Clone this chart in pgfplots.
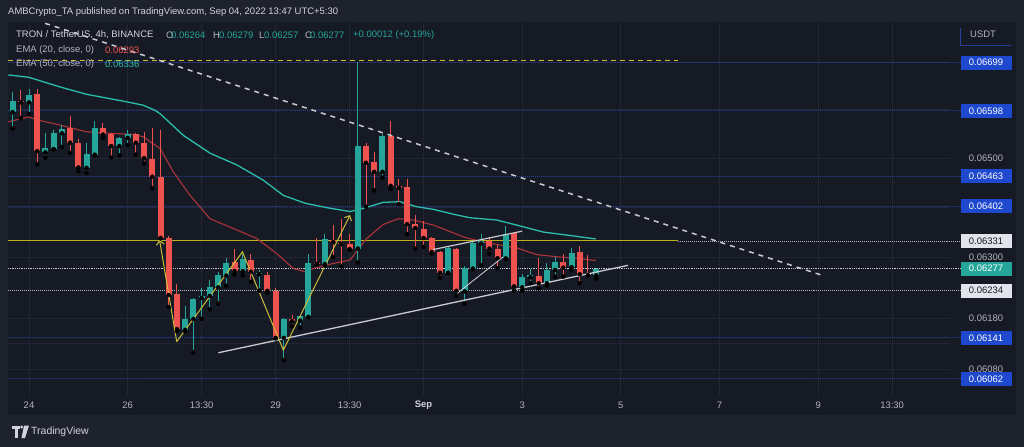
\documentclass[border=0pt]{standalone}
\usepackage{fontspec}
\setmainfont{Liberation Sans}
\usepackage{pgfplots}
\pgfplotsset{compat=1.18}
\usepackage{pgfplotstable}
\usetikzlibrary{arrows.meta}

\definecolor{outerbg}{RGB}{30,34,45}
\definecolor{panelbg}{RGB}{22,26,37}
\definecolor{gridc}{RGB}{34,38,51}
\definecolor{upc}{RGB}{38,166,154}
\definecolor{dnc}{RGB}{239,83,80}
\definecolor{emafast}{RGB}{172,52,58}
\definecolor{emaslow}{RGB}{43,190,170}
\definecolor{ylw}{RGB}{205,190,55}
\definecolor{srline}{RGB}{190,176,28}
\definecolor{lvlblue}{RGB}{40,64,155}
\definecolor{boxblue}{RGB}{30,72,205}
\definecolor{boxgray}{RGB}{225,228,235}
\definecolor{txtgray}{RGB}{178,181,190}
\definecolor{txtlight}{RGB}{209,212,220}
\definecolor{trend}{RGB}{200,202,208}

\newcommand\fs[1]{\fontsize{#1}{#1}\selectfont}

% 4h candles, i = bar index from 24 Aug 01:30 (UTC+5:30)
\pgfplotstableread{
i O H L C
-2 0.06595 0.06638 0.06561 0.06619
-1 0.06619 0.06641 0.06583 0.06616
0 0.06616 0.06643 0.06591 0.06631
1 0.06633 0.06643 0.06487 0.06514
2 0.06512 0.06551 0.06501 0.06520
3 0.06519 0.06558 0.06518 0.06552
4 0.06551 0.06568 0.06523 0.06560
5 0.06561 0.06587 0.06511 0.06532
6 0.06532 0.06539 0.06473 0.06481
7 0.06480 0.06532 0.06470 0.06508
8 0.06507 0.06576 0.06506 0.06563
9 0.06563 0.06573 0.06542 0.06549
10 0.06549 0.06551 0.06501 0.06525
11 0.06525 0.06544 0.06506 0.06541
12 0.06542 0.06558 0.06527 0.06549
13 0.06549 0.06551 0.06507 0.06532
14 0.06532 0.06554 0.06489 0.06500
15 0.06499 0.06563 0.06438 0.06462
16 0.06462 0.06559 0.06337 0.06338
17 0.06338 0.06342 0.06201 0.06225
18 0.06226 0.06246 0.06154 0.06158
19 0.06157 0.06203 0.06154 0.06178
20 0.06178 0.06220 0.06113 0.06217
21 0.06219 0.06238 0.06178 0.06223
22 0.06223 0.06254 0.06197 0.06240
23 0.06240 0.06271 0.06208 0.06264
24 0.06263 0.06298 0.06243 0.06289
25 0.06290 0.06317 0.06265 0.06272
26 0.06272 0.06307 0.06264 0.06296
27 0.06295 0.06307 0.06251 0.06271
28 0.06266 0.06274 0.06234 0.06269
29 0.06264 0.06271 0.06229 0.06233
30 0.06233 0.06238 0.06140 0.06141
31 0.06141 0.06179 0.06098 0.06177
32 0.06177 0.06185 0.06164 0.06174
33 0.06175 0.06186 0.06161 0.06183
34 0.06182 0.06307 0.06181 0.06289
35 0.06288 0.06338 0.06285 0.06286
36 0.06286 0.06346 0.06283 0.06336
37 0.06335 0.06364 0.06300 0.06330
38 0.06329 0.06377 0.06281 0.06326
39 0.06326 0.06347 0.06314 0.06316
40 0.06317 0.06700 0.06289 0.06525
41 0.06525 0.06532 0.06401 0.06491
42 0.06492 0.06512 0.06434 0.06472
43 0.06472 0.06549 0.06460 0.06545
44 0.06545 0.06576 0.06437 0.06443
45 0.06442 0.06458 0.06406 0.06439
46 0.06441 0.06457 0.06346 0.06366
47 0.06367 0.06384 0.06317 0.06358
48 0.06357 0.06372 0.06320 0.06338
49 0.06338 0.06340 0.06307 0.06310
50 0.06310 0.06311 0.06259 0.06269
51 0.06269 0.06322 0.06268 0.06318
52 0.06317 0.06319 0.06224 0.06233
53 0.06232 0.06283 0.06208 0.06279
54 0.06277 0.06330 0.06276 0.06327
55 0.06327 0.06346 0.06284 0.06332
56 0.06332 0.06340 0.06307 0.06317
57 0.06317 0.06323 0.06278 0.06298
58 0.06297 0.06362 0.06296 0.06345
59 0.06348 0.06350 0.06234 0.06242
60 0.06240 0.06267 0.06234 0.06260
61 0.06260 0.06276 0.06248 0.06264
62 0.06263 0.06297 0.06238 0.06248
63 0.06248 0.06287 0.06244 0.06274
64 0.06274 0.06300 0.06261 0.06291
65 0.06290 0.06306 0.06261 0.06279
66 0.06280 0.06318 0.06274 0.06308
67 0.06310 0.06322 0.06248 0.06266
68 0.06267 0.06304 0.06263 0.06264
69 0.06264 0.06279 0.06257 0.06277
}\ohlc

% EMA 50
\pgfplotstableread{
i v
-2.52 0.06673
0 0.06668
3.77 0.06648
7.02 0.06632
11.89 0.06617
13.87 0.06610
15.33 0.06599
15.94 0.06592
18.77 0.06547
22.02 0.06510
25.27 0.06486
28.5 0.06455
30.94 0.06424
33.58 0.06408
36.22 0.06399
39.05 0.06391
40.27 0.06396
43.1 0.06410
45.13 0.06411
47.17 0.06401
49.19 0.06396
51.82 0.06385
53.65 0.06379
56.9 0.06374
59.33 0.06364
62.57 0.06350
65.41 0.06344
68.94 0.06336
}\emaslowtab

% EMA 20
\pgfplotstableread{
i v
-2.52 0.06575
0 0.06585
0.94 0.06579
3.77 0.06568
7.02 0.06554
9.85 0.06551
12.69 0.06549
13.91 0.06544
15.33 0.06527
15.94 0.06520
17.55 0.06472
19.59 0.06424
22.02 0.06377
25.27 0.06354
27.7 0.06337
30.13 0.06307
32.15 0.06277
33.58 0.06271
34.59 0.06277
37.02 0.06287
39.05 0.06294
41.08 0.06337
43.1 0.06365
44.93 0.06377
46.75 0.06374
49.19 0.06364
51.82 0.06347
52.83 0.06340
55.27 0.06330
59.33 0.06318
61.76 0.06305
64.6 0.06300
66.63 0.06298
68.94 0.06293
}\emafasttab

\newcommand\pbox[3]{\node[fill=#2, text=#3, minimum width=51bp, minimum height=14bp, inner sep=0pt, font=\fs{9.5}] at (axis cs:116.42,#1) {#1};}
\newcommand\ptick[1]{\node[text=txtgray, inner sep=0pt, font=\fs{9.5}] at (axis cs:116.42,#1) {#1};}
\newcommand\tlab[2]{\node[text=txtgray, inner sep=0pt, font=\fs{9.5}] at (axis cs:#1,0.06012) {#2};}

\begin{document}
\begin{tikzpicture}
\fill[outerbg] (0,0) rectangle (1024bp,-447bp);
\fill[panelbg] (8bp,-22bp) rectangle (1016bp,-415bp);

\begin{axis}[
  at={(8bp,-396bp)}, anchor=south west,
  scale only axis, width=942bp, height=374bp,
  xmin=-2.555, xmax=112.04,
  ymode=log, ymin=0.060291, ymax=0.067854,
  clip=false,
  axis line style={draw=none},
  xtick=\empty, ytick=\empty,
  lvl/.style={draw=lvlblue, densely dotted, line width=1bp, forget plot},
]
% grid
\addplot[draw=gridc, line width=0.8bp, unbounded coords=jump, forget plot] coordinates {
 (0,0.060291) (0,0.067854) (nan,nan)
 (12,0.060291) (12,0.067854) (nan,nan)
 (21,0.060291) (21,0.067854) (nan,nan)
 (30,0.060291) (30,0.067854) (nan,nan)
 (39,0.060291) (39,0.067854) (nan,nan)
 (48,0.060291) (48,0.067854) (nan,nan)
 (60,0.060291) (60,0.067854) (nan,nan)
 (72,0.060291) (72,0.067854) (nan,nan)
 (84,0.060291) (84,0.067854) (nan,nan)
 (96,0.060291) (96,0.067854) (nan,nan)
 (105,0.060291) (105,0.067854) (nan,nan)
 (-2.555,0.0608) (112.04,0.0608) (nan,nan)
 (-2.555,0.0613) (112.04,0.0613) (nan,nan)
 (-2.555,0.0618) (112.04,0.0618) (nan,nan)
 (-2.555,0.063) (112.04,0.063) (nan,nan)
 (-2.555,0.064) (112.04,0.064) (nan,nan)
 (-2.555,0.065) (112.04,0.065) (nan,nan)
 (-2.555,0.066) (112.04,0.066) (nan,nan)
 (-2.555,0.067) (112.04,0.067)
};
% price levels
\addplot[lvl] coordinates {(-2.555,0.06699) (113.38,0.06699)};
\addplot[lvl] coordinates {(-2.555,0.06598) (113.38,0.06598)};
\addplot[lvl] coordinates {(-2.555,0.06463) (113.38,0.06463)};
\addplot[lvl] coordinates {(-2.555,0.06402) (113.38,0.06402)};
\addplot[lvl] coordinates {(-2.555,0.06141) (113.38,0.06141)};
\addplot[lvl] coordinates {(-2.555,0.06062) (113.38,0.06062)};
\addplot[draw=txtgray, densely dotted, line width=1bp, forget plot] coordinates {(-2.555,0.06234) (113.38,0.06234)};
\addplot[draw=txtgray!70, densely dotted, line width=0.8bp, forget plot] coordinates {(-2.555,0.06277) (113.38,0.06277)};
\addplot[draw=txtgray, densely dotted, line width=1bp, forget plot] coordinates {(78.95,0.06331) (113.38,0.06331)};
\addplot[draw=srline, line width=1.3bp, forget plot] coordinates {(-2.555,0.063325) (78.95,0.063325)};
\addplot[draw=ylw, dash pattern=on 5bp off 4bp, line width=1.6bp, forget plot] coordinates {(-2.555,0.06704) (78.95,0.06704)};

% moving averages
\addplot[draw=emaslow, line width=1.3bp] table[x=i, y=v] {\emaslowtab};
\addplot[draw=emafast, line width=1.1bp] table[x=i, y=v] {\emafasttab};

% wicks
\addplot[only marks, mark=none, forget plot,
  x filter/.expression={\thisrow{C}>=\thisrow{O} ? x : nan},
  error bars/.cd, y dir=plus, y explicit, error mark=none,
  error bar style={draw=upc, line width=1bp}]
  table[x=i, y=L, y error expr=\thisrow{H}-\thisrow{L}] {\ohlc};
\addplot[only marks, mark=none, forget plot,
  x filter/.expression={\thisrow{C}<\thisrow{O} ? x : nan},
  error bars/.cd, y dir=plus, y explicit, error mark=none,
  error bar style={draw=dnc, line width=1bp}]
  table[x=i, y=L, y error expr=\thisrow{H}-\thisrow{L}] {\ohlc};
% bodies
\addplot[only marks, mark=none, forget plot,
  x filter/.expression={\thisrow{C}>=\thisrow{O} ? x : nan},
  error bars/.cd, y dir=plus, y explicit, error mark=none,
  error bar style={draw=upc, line width=6bp, line cap=butt}]
  table[x=i, y=O, y error expr=\thisrow{C}-\thisrow{O}] {\ohlc};
\addplot[only marks, mark=none, forget plot,
  x filter/.expression={\thisrow{C}<\thisrow{O} ? x : nan},
  error bars/.cd, y dir=plus, y explicit, error mark=none,
  error bar style={draw=dnc, line width=6bp, line cap=butt}]
  table[x=i, y=C, y error expr=\thisrow{O}-\thisrow{C}] {\ohlc};

% drawings
\addplot[draw=trend, dash pattern=on 5bp off 5bp, line width=1.5bp] coordinates {(1.95,0.06783) (96.84,0.062621)};
\addplot[draw=trend, line width=1.3bp] coordinates {(23.03,0.061122) (72.87,0.062839)};
\addplot[draw=trend, line width=1.2bp] coordinates {(49.15,0.06315) (59.98,0.06352)};
\addplot[draw=trend!80, line width=0.8bp] coordinates {(51.82,0.06225) (57.66,0.06300)};
\addplot[draw=ylw, line width=1bp, -{Straight Barb[length=4bp]}] coordinates {(17.97,0.061338) (15.88,0.063339)};
\addplot[draw=ylw, line width=1bp, -{Straight Barb[length=4bp]}] coordinates {(17.97,0.061338) (25.97,0.063104) (30.94,0.061174) (39.05,0.063840)};

% price scale
\ptick{0.06500}
\ptick{0.06300}
\ptick{0.06180}
\ptick{0.06080}
\pbox{0.06699}{boxblue}{white}
\pbox{0.06598}{boxblue}{white}
\pbox{0.06463}{boxblue}{white}
\pbox{0.06402}{boxblue}{white}
\pbox{0.06331}{boxgray}{panelbg}
\pbox{0.06277}{upc}{white}
\pbox{0.06234}{boxgray}{panelbg}
\pbox{0.06141}{boxblue}{white}
\pbox{0.06062}{boxblue}{white}

% time scale
\tlab{0}{24}
\tlab{12}{26}
\tlab{21}{13:30}
\tlab{30}{29}
\tlab{39}{13:30}
\node[text=txtlight, inner sep=0pt, font=\fs{9.5}\bfseries] at (axis cs:48,0.06012) {Sep};
\tlab{60}{3}
\tlab{72}{5}
\tlab{84}{7}
\tlab{96}{9}
\tlab{105}{13:30}
\end{axis}

% header and legend
\node[anchor=west, inner sep=0pt, text=txtlight, font=\fs{9.5}] at (8bp,-12bp)
  {AMBCrypto\_TA published on TradingView.com, Sep 04, 2022 13:47 UTC+5:30};
\begin{scope}[every node/.style={anchor=west, inner sep=0pt, font=\fs{9.5}}]
\node[text=txtlight] at (16bp,-35bp) {TRON / TetherUS, 4h, BINANCE};
\node[text=txtgray] at (166bp,-35bp) {O};
\node[text=upc] at (171bp,-35bp) {0.06264};
\node[text=txtgray] at (213bp,-35bp) {H};
\node[text=upc] at (219bp,-35bp) {0.06279};
\node[text=txtgray] at (259bp,-35bp) {L};
\node[text=upc] at (264bp,-35bp) {0.06257};
\node[text=txtgray] at (305bp,-35bp) {C};
\node[text=upc] at (310bp,-35bp) {0.06277};
\node[text=upc] at (353bp,-35bp) {+0.00012 (+0.19\%)};
\node[text=txtgray] at (16bp,-50bp) {EMA (20, close, 0)};
\node[text=dnc] at (105bp,-50bp) {0.06293};
\node[text=txtgray] at (16bp,-64bp) {EMA (50, close, 0)};
\node[text=emaslow] at (105bp,-64bp) {0.06336};
\node[text=txtgray] at (970bp,-34.5bp) {USDT};
\end{scope}
\draw[lvlblue, line width=0.8bp] (960.7bp,-28bp) -- (960.7bp,-45bp) -- (1011bp,-45bp);

% TradingView logo
\fill[txtlight] (12bp,-425.5bp) rectangle (19.5bp,-428.5bp);
\fill[txtlight] (15bp,-428.5bp) rectangle (18bp,-438bp);
\fill[txtlight] (21.8bp,-427bp) circle (1.6bp);
\fill[txtlight] (24bp,-425.5bp) -- (29bp,-425.5bp) -- (25bp,-438bp) -- (21.5bp,-438bp) -- cycle;
\node[anchor=west, inner sep=0pt, text=txtlight, font=\fs{10.5}] at (31bp,-432bp) {TradingView};

\pgfresetboundingbox
\path[use as bounding box] (0,0) rectangle (1024bp,-447bp);
\end{tikzpicture}
\end{document}
